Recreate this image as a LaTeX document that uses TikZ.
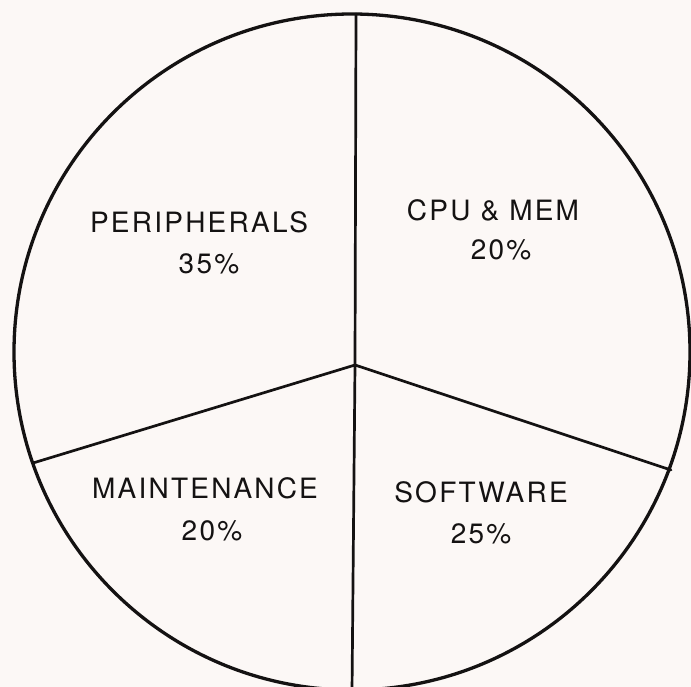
\documentclass[tikz,border=0pt]{standalone}
\usepackage{fontspec}
\newfontfamily\lblfont[LetterSpace=8]{TeX Gyre Heros}
\definecolor{bgc}{RGB}{252,248,246}
\definecolor{ink}{RGB}{20,18,18}
\begin{document}
\begin{tikzpicture}[x=1pt,y=-1pt,
  rim/.style={draw=ink,line width=3.3pt},
  spoke/.style={draw=ink,line width=2.7pt,line cap=round},
  lbl/.style={anchor=base,inner sep=0pt,text=ink,font=\lblfont\fontsize{28}{30}\selectfont}]
\useasboundingbox[fill=bgc] (0,0) rectangle (691,687);
\coordinate (c) at (352,352);
\coordinate (hub) at (355,365);
\coordinate (top) at (356,14);
\coordinate (bot) at (352,692);
\coordinate (lft) at (33,463);
\coordinate (rgt) at (671,470);
\draw[rim] (c) circle[radius=338];
\draw[spoke] (top) -- (hub);
\draw[spoke] (hub) -- (bot);
\draw[spoke] (hub) -- (lft);
\draw[spoke] (hub) -- (rgt);
\node[lbl] (per) at (199,233) {PERIPHERALS};
\node[lbl] (perv) at (209,273) {35\%};
\node[lbl] (cpu) at (493,221) {CPU \& MEM};
\node[lbl] (cpuv) at (501,260) {20\%};
\node[lbl] (mnt) at (205,498) {MAINTENANCE};
\node[lbl] (mntv) at (212,540) {20\%};
\node[lbl] (sw) at (481,502) {SOFTWARE};
\node[lbl] (swv) at (481,543) {25\%};
\end{tikzpicture}
\end{document}
